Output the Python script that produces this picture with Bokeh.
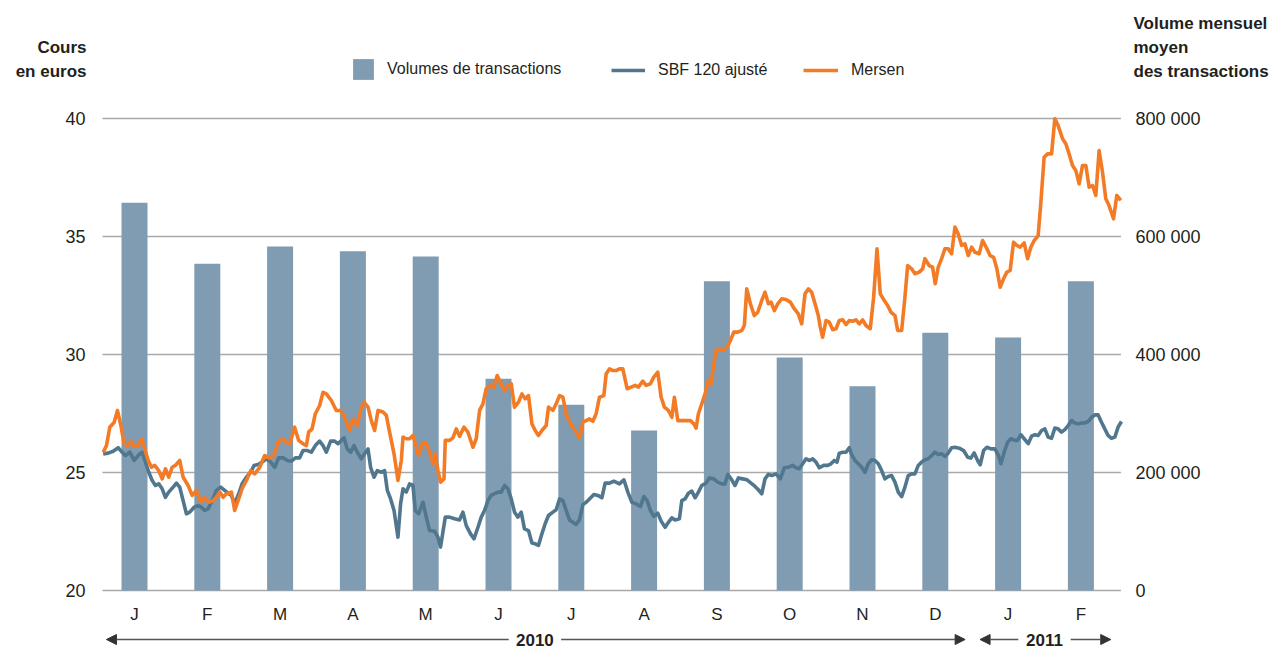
from bokeh.plotting import figure
from bokeh.models import (Range1d, LinearAxis, FixedTicker, Legend, LegendItem,
                          Label, Arrow, NormalHead)
from bokeh.embed import file_html
from bokeh.resources import INLINE

# ---------------- data ----------------
months = ["J", "F", "M", "A", "M", "J", "J", "A", "S", "O", "N", "D", "J", "F"]
volumes = [657000, 554000, 583000, 575000, 566000, 359000, 315000,
           271000, 524000, 395000, 346000, 437000, 429000, 524000]
years = ["2010", "2011"]
year_start = [0, 12]
year_end = [12, 14]

# time in months since 1 Jan 2010
mersen_t = [
    0.070, 0.115, 0.161, 0.221, 0.266, 0.312, 0.358, 0.404, 0.449, 0.496,
    0.550, 0.596, 0.641, 0.688, 0.733, 0.778, 0.833, 0.880, 0.925, 0.970,
    1.017, 1.062, 1.121, 1.168, 1.237, 1.292, 1.351, 1.410, 1.465, 1.520,
    1.580, 1.625, 1.671, 1.717, 1.763, 1.831, 1.876, 1.923, 1.978, 2.037,
    2.096, 2.151, 2.220, 2.288, 2.357, 2.417, 2.472, 2.527, 2.586, 2.631,
    2.700, 2.755, 2.815, 2.861, 2.892, 2.939, 2.984, 3.043, 3.090, 3.135,
    3.204, 3.272, 3.331, 3.386, 3.455, 3.502, 3.561, 3.606, 3.653, 3.708,
    3.753, 3.798, 3.845, 3.914, 3.959, 4.004, 4.065, 4.119, 4.165, 4.188,
    4.233, 4.279, 4.325, 4.371, 4.402, 4.463, 4.508, 4.553, 4.600, 4.631,
    4.668, 4.704, 4.751, 4.769, 4.828, 4.874, 4.920, 4.965, 5.025, 5.080,
    5.149, 5.194, 5.240, 5.286, 5.331, 5.391, 5.437, 5.482, 5.537, 5.583,
    5.629, 5.675, 5.720, 5.775, 5.822, 5.867, 5.912, 5.959, 6.004, 6.049,
    6.096, 6.155, 6.187, 6.247, 6.292, 6.338, 6.384, 6.430, 6.475, 6.522,
    6.567, 6.612, 6.659, 6.704, 6.750, 6.796, 6.841, 6.887, 6.947, 6.979,
    7.024, 7.071, 7.116, 7.161, 7.208, 7.267, 7.322, 7.377, 7.422, 7.482,
    7.528, 7.587, 7.633, 7.688, 7.734, 7.779, 7.834, 7.881, 7.916, 7.963,
    8.018, 8.077, 8.136, 8.183, 8.214, 8.246, 8.292, 8.338, 8.383, 8.420,
    8.457, 8.489, 8.534, 8.581, 8.640, 8.685, 8.732, 8.787, 8.842, 8.877,
    8.910, 8.960, 9.014, 9.061, 9.116, 9.161, 9.207, 9.244, 9.289, 9.336,
    9.390, 9.449, 9.509, 9.563, 9.618, 9.665, 9.710, 9.756, 9.802, 9.848,
    9.893, 9.920, 9.953, 9.999, 10.044, 10.091, 10.136, 10.181, 10.228, 10.273,
    10.318, 10.365, 10.411, 10.456, 10.502, 10.548, 10.607, 10.653, 10.699, 10.744,
    10.799, 10.846, 10.891, 10.946, 10.983, 11.038, 11.083, 11.120, 11.175, 11.220,
    11.279, 11.326, 11.358, 11.416, 11.463, 11.499, 11.540, 11.587, 11.632, 11.677,
    11.724, 11.770, 11.815, 11.862, 11.907, 11.952, 11.999, 12.044, 12.103, 12.150,
    12.209, 12.254, 12.301, 12.346, 12.391, 12.438, 12.483, 12.528, 12.575, 12.620,
    12.666, 12.721, 12.767, 12.813, 12.858, 12.913, 12.950, 12.995, 13.042, 13.097,
    13.142, 13.187, 13.248, 13.293, 13.338, 13.385, 13.430, 13.476, 13.522, 13.568,
    13.613, 13.660, 13.705, 13.750, 13.797, 13.842, 13.887, 13.948, 13.993, 14.048,
]
mersen = [
    25.86, 26.14, 26.92, 27.13, 27.63, 27.00, 26.22, 26.14, 26.33, 26.10,
    26.14, 26.43, 26.00, 25.51, 25.22, 25.30, 25.08, 24.73, 25.16, 24.80,
    25.22, 25.30, 25.51, 24.80, 24.45, 24.03, 24.24, 23.74, 23.95, 23.74,
    23.81, 23.95, 24.17, 23.95, 24.10, 24.17, 23.39, 23.81, 24.31, 24.66,
    25.08, 24.94, 25.22, 25.72, 25.62, 25.72, 26.28, 26.43, 26.28, 26.22,
    26.92, 26.36, 26.22, 26.14, 26.71, 26.85, 27.49, 27.84, 28.40, 28.33,
    28.05, 27.63, 27.63, 27.34, 26.78, 27.27, 27.00, 27.63, 27.98, 27.77,
    27.20, 26.78, 27.63, 27.56, 27.42, 26.71, 25.79, 24.66, 25.51, 26.50,
    26.43, 26.43, 26.57, 26.07, 25.72, 26.28, 26.22, 25.86, 25.37, 25.79,
    25.08, 24.59, 24.73, 26.36, 26.36, 26.47, 26.85, 26.53, 26.92, 26.71,
    26.07, 26.43, 27.63, 27.91, 28.55, 28.69, 28.61, 29.11, 28.76, 28.47,
    28.69, 28.76, 27.77, 27.98, 28.33, 28.12, 28.26, 27.06, 26.78, 26.57,
    26.78, 26.99, 27.77, 27.63, 27.91, 28.26, 28.19, 27.49, 27.13, 26.92,
    26.71, 26.47, 27.13, 27.20, 27.27, 27.17, 27.49, 28.19, 28.26, 29.18,
    29.39, 29.32, 29.32, 29.39, 29.39, 28.55, 28.62, 28.69, 28.62, 28.87,
    28.69, 28.76, 29.04, 29.25, 28.19, 27.77, 27.63, 27.34, 28.19, 27.20,
    27.20, 27.20, 27.20, 27.06, 26.88, 27.49, 27.91, 28.33, 28.90, 28.76,
    29.60, 30.17, 30.24, 30.17, 30.31, 30.59, 30.95, 30.95, 31.02, 31.23,
    32.78, 32.15, 31.65, 31.79, 32.29, 32.64, 32.15, 32.22, 31.86, 32.15,
    32.36, 32.33, 32.22, 31.94, 31.72, 31.30, 32.57, 32.78, 32.64, 32.15,
    31.65, 31.16, 30.73, 31.44, 31.37, 31.05, 31.09, 31.44, 31.47, 31.27,
    31.44, 31.41, 31.47, 31.30, 31.47, 31.23, 31.09, 32.43, 34.48, 32.57,
    32.29, 32.08, 31.79, 31.65, 31.02, 31.02, 32.43, 33.77, 33.63, 33.42,
    33.49, 33.63, 34.06, 33.77, 33.70, 33.00, 33.70, 34.06, 34.48, 34.48,
    34.27, 35.40, 35.11, 34.62, 34.69, 34.19, 34.55, 34.33, 34.27, 34.83,
    34.48, 34.19, 34.12, 33.63, 32.85, 33.21, 33.49, 33.56, 34.76, 34.62,
    34.55, 34.73, 34.06, 34.55, 34.83, 35.04, 36.45, 38.36, 38.50, 38.50,
    39.99, 39.70, 39.14, 38.93, 38.50, 38.01, 37.80, 37.23, 38.01, 38.01,
    37.09, 37.16, 36.74, 38.64, 37.72, 36.60, 36.31, 35.75, 36.74, 36.53,
]

sbf_t = [
    0.070, 0.139, 0.207, 0.276, 0.331, 0.376, 0.435, 0.496, 0.550, 0.605,
    0.651, 0.696, 0.743, 0.788, 0.833, 0.880, 0.925, 0.970, 1.031, 1.076,
    1.121, 1.168, 1.213, 1.259, 1.319, 1.374, 1.419, 1.465, 1.511, 1.566,
    1.625, 1.684, 1.739, 1.794, 1.831, 1.876, 1.931, 1.978, 2.037, 2.096,
    2.143, 2.198, 2.253, 2.312, 2.371, 2.426, 2.480, 2.541, 2.600, 2.655,
    2.710, 2.769, 2.815, 2.874, 2.929, 2.984, 3.043, 3.090, 3.135, 3.194,
    3.249, 3.296, 3.341, 3.378, 3.423, 3.469, 3.515, 3.561, 3.616, 3.661,
    3.708, 3.743, 3.790, 3.835, 3.890, 3.935, 3.973, 4.018, 4.065, 4.119,
    4.155, 4.188, 4.233, 4.279, 4.325, 4.357, 4.402, 4.463, 4.508, 4.553,
    4.622, 4.668, 4.704, 4.769, 4.828, 4.896, 4.965, 5.011, 5.057, 5.116,
    5.163, 5.218, 5.263, 5.308, 5.355, 5.400, 5.455, 5.500, 5.537, 5.583,
    5.629, 5.675, 5.720, 5.767, 5.812, 5.857, 5.912, 5.959, 6.004, 6.049,
    6.096, 6.141, 6.187, 6.247, 6.292, 6.338, 6.384, 6.430, 6.475, 6.522,
    6.567, 6.612, 6.659, 6.704, 6.750, 6.810, 6.865, 6.920, 6.965, 7.024,
    7.084, 7.161, 7.222, 7.277, 7.332, 7.391, 7.450, 7.496, 7.542, 7.587,
    7.633, 7.688, 7.734, 7.789, 7.834, 7.881, 7.926, 7.985, 8.018, 8.063,
    8.108, 8.155, 8.200, 8.246, 8.292, 8.351, 8.397, 8.457, 8.512, 8.567,
    8.612, 8.649, 8.704, 8.749, 8.795, 8.855, 8.914, 8.969, 9.024, 9.069,
    9.116, 9.161, 9.207, 9.253, 9.312, 9.371, 9.426, 9.481, 9.541, 9.587,
    9.632, 9.679, 9.724, 9.770, 9.816, 9.861, 9.907, 9.967, 10.022, 10.067,
    10.113, 10.150, 10.181, 10.228, 10.273, 10.318, 10.351, 10.397, 10.442, 10.489,
    10.534, 10.579, 10.626, 10.671, 10.717, 10.763, 10.808, 10.854, 10.900, 10.946,
    10.991, 11.038, 11.083, 11.128, 11.175, 11.220, 11.266, 11.312, 11.358, 11.403,
    11.450, 11.495, 11.540, 11.587, 11.632, 11.677, 11.724, 11.770, 11.829, 11.889,
    11.944, 11.989, 12.034, 12.081, 12.117, 12.163, 12.209, 12.264, 12.318, 12.364,
    12.401, 12.446, 12.493, 12.538, 12.593, 12.630, 12.675, 12.721, 12.776, 12.822,
    12.868, 12.913, 12.960, 13.005, 13.050, 13.097, 13.142, 13.187, 13.234, 13.279,
    13.325, 13.372, 13.417, 13.462, 13.509, 13.554, 13.600, 13.646, 13.692, 13.737,
    13.783, 13.828, 13.873, 13.920, 13.966, 14.011, 14.057,
]
sbf = [
    25.79, 25.82, 25.90, 26.05, 25.86, 25.72, 25.86, 25.51, 25.72, 25.86,
    25.44, 25.01, 24.66, 24.45, 24.52, 24.31, 23.95, 24.17, 24.38, 24.55,
    24.38, 23.81, 23.25, 23.32, 23.53, 23.60, 23.53, 23.39, 23.46, 23.81,
    24.24, 24.38, 24.24, 24.10, 24.03, 23.67, 24.10, 24.52, 24.80, 25.01,
    25.30, 25.34, 25.44, 25.58, 25.44, 25.22, 25.62, 25.62, 25.51, 25.48,
    25.62, 25.62, 25.93, 25.93, 25.86, 26.14, 26.33, 26.14, 25.86, 26.33,
    26.33, 26.22, 26.36, 26.47, 26.00, 25.86, 26.14, 25.86, 25.58, 25.79,
    26.00, 25.22, 24.80, 25.08, 25.01, 25.08, 24.24, 23.88, 23.39, 22.26,
    23.67, 24.31, 24.17, 24.52, 24.45, 23.39, 23.25, 23.74, 23.11, 22.54,
    22.51, 22.26, 21.84, 23.11, 23.11, 23.04, 22.99, 23.32, 22.75, 22.40,
    22.19, 22.68, 23.11, 23.39, 23.81, 24.03, 24.12, 24.17, 24.17, 24.45,
    24.31, 23.88, 23.32, 23.11, 23.32, 22.61, 22.54, 22.01, 21.98, 21.91,
    22.40, 22.83, 23.18, 23.32, 23.42, 23.88, 23.81, 23.39, 22.99, 22.89,
    22.80, 22.99, 23.64, 23.74, 23.88, 24.07, 24.03, 23.93, 24.55, 24.55,
    24.63, 24.52, 24.69, 24.17, 23.74, 23.67, 23.56, 23.98, 23.81, 23.39,
    23.14, 23.28, 22.94, 22.68, 22.89, 23.08, 22.99, 23.04, 23.81, 23.88,
    24.12, 24.21, 23.93, 24.17, 24.45, 24.55, 24.77, 24.73, 24.59, 24.52,
    24.52, 24.92, 24.69, 24.45, 24.77, 24.73, 24.69, 24.55, 24.41, 24.27,
    24.10, 24.73, 24.92, 24.87, 24.94, 24.73, 25.20, 25.22, 25.30, 25.20,
    25.16, 25.37, 25.58, 25.51, 25.58, 25.44, 25.20, 25.30, 25.30, 25.37,
    25.51, 25.44, 25.82, 25.86, 25.86, 26.05, 25.76, 25.51, 25.37, 25.22,
    25.01, 25.37, 25.54, 25.51, 25.37, 25.08, 24.73, 24.83, 24.87, 24.59,
    24.17, 23.98, 24.38, 24.87, 24.94, 24.94, 25.30, 25.44, 25.54, 25.58,
    25.72, 25.86, 25.76, 25.79, 25.68, 25.82, 26.05, 26.07, 26.03, 25.93,
    25.65, 25.61, 25.83, 25.51, 25.33, 25.93, 26.07, 26.00, 26.00, 25.75,
    25.37, 25.86, 26.28, 26.43, 26.36, 26.36, 26.60, 26.43, 26.22, 26.54,
    26.60, 26.57, 26.78, 26.85, 26.50, 26.45, 26.88, 26.85, 26.71, 26.82,
    26.99, 27.20, 27.10, 27.06, 27.10, 27.10, 27.16, 27.34, 27.44, 27.44,
    27.13, 26.85, 26.57, 26.45, 26.50, 26.92, 27.16,
]

price_ticks = [20, 25, 30, 35, 40]
volume_ticks = [0, 200000, 400000, 600000, 800000]
volume_tick_labels = ["0", "200 000", "400 000", "600 000", "800 000"]

# ---------------- layout & styles ----------------
FONT = "Liberation Sans"
TXT = "#231f20"
BAR = "#7f9cb3"
BLUE = "#51778f"
ORANGE = "#f47b26"
GRID = "#a9a9a9"

W, H = 1274, 648
PX_PER_MONTH = 72.8
PX_PER_EURO = 23.6
X0_PX = 97.6     # canvas x of t = 0
Y20_PX = 590.0   # canvas y of 20 euros
T_LO, T_HI = 0.033, 14.071   # chart period edges (axes)
GRID_LO, GRID_HI = 0.06, 14.05
VOL_PER_EURO = 40000         # 800 000 aligned with 40 euros

x_lo = -X0_PX / PX_PER_MONTH
x_hi = (W - X0_PX) / PX_PER_MONTH
y_lo = 20 - (H - Y20_PX) / PX_PER_EURO
y_hi = 20 + Y20_PX / PX_PER_EURO

month_x = [i + 0.5 for i in range(len(months))]

p = figure(width=W, height=H, output_backend="svg", toolbar_location=None,
           x_range=Range1d(x_lo, x_hi), y_range=Range1d(y_lo, y_hi),
           x_axis_location=None, y_axis_location=None, min_border=0)
p.outline_line_color = None
p.background_fill_color = "white"
p.border_fill_color = "white"
p.xgrid.visible = False
p.ygrid.visible = False
p.extra_y_ranges = {"vol": Range1d((y_lo - 20) * VOL_PER_EURO, (y_hi - 20) * VOL_PER_EURO)}


def style_axis(ax, standoff, size):
    ax.axis_line_color = None
    ax.major_tick_line_color = None
    ax.minor_tick_line_color = None
    ax.major_tick_in = 0
    ax.major_tick_out = 0
    ax.major_label_standoff = standoff
    ax.major_label_text_font = FONT
    ax.major_label_text_font_size = size
    ax.major_label_text_color = TXT


left = LinearAxis(fixed_location=T_LO, ticker=FixedTicker(ticks=price_ticks))
style_axis(left, 15, "18px")
p.add_layout(left, "left")

right = LinearAxis(fixed_location=T_HI, y_range_name="vol",
                   ticker=FixedTicker(ticks=volume_ticks),
                   major_label_overrides=dict(zip(volume_ticks, volume_tick_labels)))
style_axis(right, 13, "18px")
p.add_layout(right, "right")

bottom = LinearAxis(fixed_location=20, ticker=FixedTicker(ticks=month_x),
                    major_label_overrides=dict(zip(month_x, months)))
style_axis(bottom, 14, "17px")
p.add_layout(bottom, "below")

# horizontal grid lines at the price ticks
p.segment(x0=[GRID_LO] * len(price_ticks), x1=[GRID_HI] * len(price_ticks),
          y0=price_ticks, y1=price_ticks, line_color=GRID, line_width=1.5)

# glyphs
bars = p.vbar(x=month_x, top=volumes, width=0.357, y_range_name="vol",
              fill_color=BAR, line_color=None)
l_sbf = p.line(sbf_t, sbf, line_color=BLUE, line_width=3.6, line_join="round")
l_mer = p.line(mersen_t, mersen, line_color=ORANGE, line_width=3.6, line_join="round")


# legends (one per item so each swatch can have its own size)
def make_legend(label, renderer, loc, gw, gh, standoff):
    return Legend(items=[LegendItem(label=label, renderers=[renderer])],
                  location=loc, glyph_width=gw, glyph_height=gh,
                  label_standoff=standoff, padding=0, margin=0, spacing=0,
                  border_line_color=None, background_fill_alpha=0,
                  label_text_font=FONT, label_text_font_size="16px",
                  label_text_color=TXT)


p.add_layout(make_legend("Volumes de transactions", bars, (350, H - 82), 26, 26, 11))
p.add_layout(make_legend("SBF 120 ajusté", l_sbf, (611, H - 81), 34, 22, 13))
p.add_layout(make_legend("Mersen", l_mer, (803, H - 81), 35, 22, 13))


def px_x(px):
    return (px - X0_PX) / PX_PER_MONTH


def px_y(py):
    return 20 + (Y20_PX - py) / PX_PER_EURO


def head(text, x, y, align):
    p.add_layout(Label(x=px_x(x), y=px_y(y), text=text, text_align=align,
                       text_baseline="middle", text_font=FONT,
                       text_font_style="bold", text_font_size="17px",
                       text_color=TXT))


head("Cours", 86, 47, "right")
head("en euros", 86, 71, "right")
head("Volume mensuel", 1133, 23, "left")
head("moyen", 1133, 47, "left")
head("des transactions", 1133, 71, "left")

# year arrows
YR_Y = px_y(639)
GAP = 0.36
for name, a, b in zip(years, year_start, year_end):
    mid = (a + b) / 2
    p.add_layout(Label(x=mid, y=YR_Y, text=name, text_align="center",
                       text_baseline="middle", text_font=FONT,
                       text_font_style="bold", text_font_size="17px",
                       text_color=TXT))
    for s, e in ((mid - GAP, a + 0.115), (mid + GAP, b - 0.09)):
        p.add_layout(Arrow(x_start=s, y_start=YR_Y, x_end=e, y_end=YR_Y,
                           line_color="#555555", line_width=1.6,
                           end=NormalHead(size=10, fill_color="#333333",
                                          line_color="#333333")))

open("out.html", "w").write(file_html(p, INLINE))
